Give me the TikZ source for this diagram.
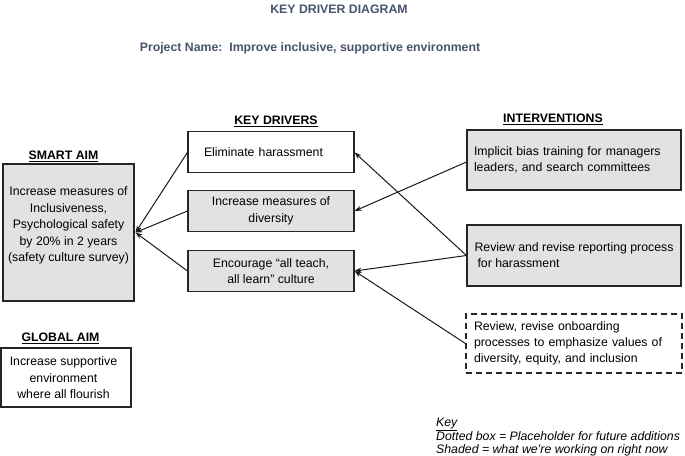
\documentclass[tikz,border=0pt]{standalone}
\usepackage{fontspec}
\setmainfont{Liberation Sans}
\usetikzlibrary{arrows.meta,calc}
\definecolor{slate}{RGB}{72,84,108}
\definecolor{shade}{RGB}{226,226,226}
\begin{document}
\begin{tikzpicture}[x=1pt,y=-1pt,
  every node/.style={font=\fontsize{12.3}{16.5}\selectfont, inner sep=0pt},
  box/.style={draw=black!85, line width=1.1pt, rectangle},
  shaded/.style={box, fill=shade},
  dashbox/.style={draw=black!85, line width=1.1pt, rectangle, dash pattern=on 6pt off 4pt},
  head/.style={font=\fontsize{12.3}{14}\selectfont\bfseries, anchor=base},
  keytxt/.style={font=\fontsize{12.3}{14}\selectfont\itshape, anchor=base west},
  arr/.style={line width=1pt, draw=black!90, -{Stealth[length=7pt,width=5pt]}},
]
\useasboundingbox (0,0) rectangle (685,455);

% titles
\node[head, text=slate] (title) at (339,13) {KEY DRIVER DIAGRAM};
\node[head, text=slate] (proj) at (310,51) {Project Name:\ \ Improve inclusive, supportive environment};

% headings
\node[head] (hsmart) at (63.5,159.5) {\underline{SMART AIM}};
\node[head] (hkey) at (276,124.5) {\underline{KEY DRIVERS}};
\node[head] (hint) at (553,122.5) {\underline{INTERVENTIONS}};
\node[head] (hglob) at (60.5,341.5) {\underline{GLOBAL AIM}};

% smart aim
\node[shaded, minimum width=131pt, minimum height=137pt] (aim) at (68.5,232.5) {};
\node[align=center] (aimtxt) at (68.5,225.5) {Increase measures of\\Inclusiveness,\\Psychological safety\\by 20\% in 2 years\\(safety culture survey)};
\coordinate (tip) at (135.5,232.5);

% global aim
\node[box, minimum width=130pt, minimum height=59pt] (glob) at (66,377.5) {};
\node[align=center] (globtxt) at (63.5,378) {Increase supportive\\environment\\where all flourish};

% key drivers
\node[box, minimum width=166pt, minimum height=41pt, text width=134pt, inner xsep=16pt, align=left] (elim) at (271,152.4) {Eliminate harassment};
\node[shaded, minimum width=166pt, minimum height=41pt, align=center] (div) at (271,211) {Increase measures of\\diversity};
\node[shaded, minimum width=166pt, minimum height=41pt, align=center] (enc) at (271,271) {Encourage “all teach,\\all learn” culture};

% interventions
\node[shaded, minimum width=214pt, minimum height=60pt, text width=200pt, inner xsep=7pt, align=left,
  font=\fontsize{12.3}{15.5}\selectfont] (int1) at (574,160) {Implicit bias training for managers\\leaders, and search committees};
\node[shaded, minimum width=214pt, minimum height=61pt, align=left,
  font=\fontsize{12.3}{16}\selectfont] (int2) at (574,255.5) {Review and revise reporting process\\\hspace*{3pt}for harassment};
\node[dashbox, minimum width=216pt, minimum height=59pt, text width=200pt, inner xsep=8pt, align=left,
  font=\fontsize{12.3}{16}\selectfont] (ob) at (574,343.5) {Review, revise onboarding\\processes to emphasize values of\\diversity, equity, and inclusion};

% key
\node[keytxt] (k1) at (436,426) {\underline{Key}};
\node[keytxt] (k2) at (436,440) {Dotted box = Placeholder for future additions};
\node[keytxt] (k3) at (436,453) {Shaded = what we’re working on right now};

% arrows to aim
\draw[arr] (elim.west) -- (tip);
\draw[arr] (div.west) -- (tip);
\draw[arr] (enc.west) -- (tip);

% arrows from interventions
\draw[arr] ($(int1.west)+(0,2)$) -- (div.east);
\draw[arr] (int2.west) -- (elim.east);
\draw[arr] (int2.west) -- (enc.east);
\draw[arr] (ob.west) -- (enc.east);
\end{tikzpicture}
\end{document}
